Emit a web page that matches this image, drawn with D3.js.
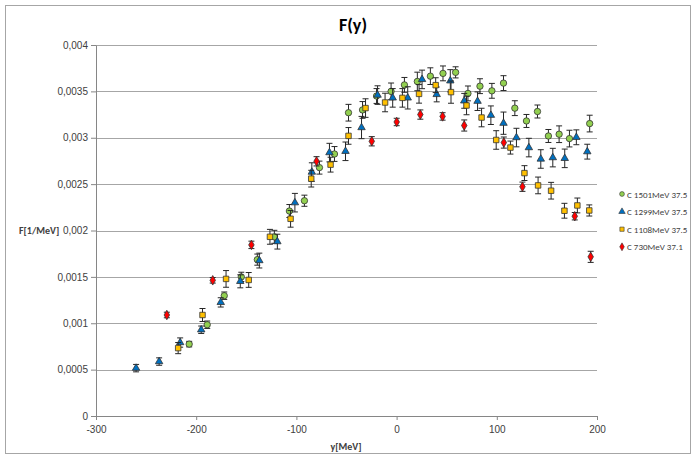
<!DOCTYPE html>
<html>
<head>
<meta charset="utf-8">
<script src="https://cdn.jsdelivr.net/npm/d3@7"></script>
<style>
  body { margin: 0; background: #fff; }
  svg { font-family: Calibri, Carlito, Lato, "Open Sans", sans-serif; }
</style>
</head>
<body>
<svg id="chart"></svg>
<script>
// ---- data ----
const seriesNames = ["C 1501MeV 37.5", "C 1299MeV 37.5", "C 1108MeV 37.5", "C 730MeV 37.1"];

const g1501X = [-207, -189, -172, -155, -139, -122, -107, -92, -77, -62, -48, -34, -20, -5.5, 7.8, 20.7, 33.7, 46.3, 58.9, 71.2, 83.2, 95.1, 106.7, 118, 129.6, 140.6, 151.5, 162.2, 172.5, 192.7];
const g1501Y = [0.000775, 0.000984, 0.001297, 0.0015, 0.001686, 0.001932, 0.00221, 0.002321, 0.002678, 0.002825, 0.00327, 0.0033, 0.00345, 0.0035, 0.00357, 0.003607, 0.003664, 0.003694, 0.003705, 0.003478, 0.003556, 0.003506, 0.003589, 0.003319, 0.003181, 0.003283, 0.003019, 0.003038, 0.002991, 0.003153];
const g1501E = [0.00003, 0.00004, 0.00004, 0.00005, 0.00006, 0.00007, 0.00007, 0.00006, 0.00007, 0.00008, 0.00009, 0.00009, 0.00008, 0.00009, 0.00008, 0.0001, 0.00009, 0.00008, 0.00006, 0.00008, 0.00008, 0.00008, 0.00008, 0.00008, 0.00007, 0.00007, 0.00007, 0.00009, 0.00009, 0.00009];

const b1299X = [-260, -237, -216, -195, -175.5, -156, -137, -119, -101.5, -84.6, -67, -51, -35, -19, -3.9, 11.1, 25.4, 40, 53.6, 67.5, 80.8, 94.1, 106.7, 119.6, 132, 143.9, 155.9, 167.8, 179.4, 190.3];
const b1299Y = [0.000516, 0.000587, 0.000792, 0.00093, 0.001225, 0.001452, 0.001676, 0.00188, 0.0023, 0.00263, 0.00284, 0.002854, 0.00311, 0.00346, 0.00343, 0.00343, 0.003629, 0.003467, 0.003614, 0.003398, 0.003394, 0.003243, 0.003157, 0.003002, 0.002894, 0.002771, 0.002786, 0.002778, 0.003005, 0.00285];
const b1299E = [0.00004, 0.00004, 0.00005, 0.00004, 0.00005, 0.00007, 0.00008, 0.00008, 0.0001, 0.0001, 0.0001, 0.0001, 0.00012, 0.0001, 0.0001, 0.00012, 0.0001, 0.00008, 0.00012, 0.00008, 0.0001, 0.0001, 0.00012, 0.0001, 0.0001, 0.0001, 0.0001, 0.0001, 0.00008, 0.00008];

const o1108X = [-218, -193.7, -170.2, -147.6, -126.4, -105.8, -85.2, -65.9, -48, -31, -11.5, 5.8, 22.4, 39, 54.3, 69.8, 84.8, 99.4, 113.6, 127.6, 141.2, 154.2, 167.5, 180.4, 192.3];
const o1108Y = [0.000732, 0.001089, 0.001478, 0.001467, 0.001932, 0.002126, 0.002559, 0.00271, 0.00302, 0.00332, 0.00338, 0.00343, 0.003473, 0.003567, 0.003492, 0.003348, 0.003218, 0.002976, 0.002894, 0.002619, 0.002486, 0.002429, 0.002213, 0.00227, 0.002216];
const o1108E = [0.00006, 0.00007, 0.00009, 0.00008, 0.00008, 0.00009, 0.00009, 0.00008, 0.00009, 0.0001, 0.0001, 0.0001, 0.0001, 0.00008, 0.00012, 0.0001, 0.0001, 0.0001, 0.00007, 0.00008, 0.00009, 0.00009, 0.00008, 0.00008, 0.00006];

const r730X = [-229.3, -183.5, -144.9, -79.9, -24.8, 0.1, 23.7, 45.9, 67.5, 107, 125.6, 177.8, 193.7];
const r730Y = [0.001089, 0.001463, 0.001845, 0.002746, 0.002962, 0.00317, 0.00325, 0.00323, 0.003132, 0.002948, 0.002472, 0.002154, 0.001716];
const r730E = [0.00003, 0.00003, 0.00004, 0.00005, 0.00005, 0.00004, 0.00005, 0.00004, 0.00006, 0.00006, 0.00005, 0.00004, 0.00006];

const xTicks = [-300, -200, -100, 0, 100, 200];
const yTicks = [0, 0.0005, 0.001, 0.0015, 0.002, 0.0025, 0.003, 0.0035, 0.004];

// ---- layout ----
const W = 696, H = 457;
const margin = {top: 45, right: 99, bottom: 41, left: 96};
const width = W - margin.left - margin.right;
const height = H - margin.top - margin.bottom;

const svg = d3.select("#chart").attr("width", W).attr("height", H);

// outer frame
svg.append("rect")
   .attr("x", 5.5).attr("y", 5.5)
   .attr("width", W - 11).attr("height", H - 9)
   .attr("fill", "#fff")
   .attr("stroke", "#a6a6a6");

svg.append("text")
   .attr("x", 353).attr("y", 31)
   .attr("text-anchor", "middle")
   .style("font-size", "18px")
   .style("font-weight", "bold")
   .text("F(y)");

const chart = svg.append("g")
   .attr("transform", `translate(${margin.left},${margin.top})`);

const x = d3.scaleLinear().domain([-300, 200]).range([0, width]);
const y = d3.scaleLinear().domain([0, 0.004]).range([height, 0]);

const comma = d3.formatLocale({decimal: ",", thousands: ".", grouping: [3], currency: ["", ""]});
const fmt = comma.format("~g");

// gridlines
chart.append("g")
   .selectAll("line")
   .data(yTicks.slice(1))
   .join("line")
     .attr("x1", 0).attr("x2", width)
     .attr("y1", d => Math.round(y(d)) + 0.5)
     .attr("y2", d => Math.round(y(d)) + 0.5)
     .attr("stroke", "#a6a6a6");

const yAxisG = chart.append("g")
   .call(d3.axisLeft(y).tickValues(yTicks).tickFormat(fmt).tickSize(5).tickSizeOuter(0).tickPadding(3));
yAxisG.select(".domain").attr("stroke", "#868686");
yAxisG.selectAll(".tick line").attr("stroke", "#868686");
yAxisG.selectAll("text").style("font-size", "10px").attr("fill", "#404040");

const xAxisG = chart.append("g")
   .attr("transform", `translate(0,${height})`)
   .call(d3.axisBottom(x).tickValues(xTicks).tickFormat(d => String(d)).tickSize(4).tickSizeOuter(0).tickPadding(6));
xAxisG.select(".domain").attr("stroke", "#868686");
xAxisG.selectAll(".tick line").attr("stroke", "#868686");
xAxisG.selectAll("text").style("font-size", "10px").attr("fill", "#404040");

svg.append("text")
   .attr("x", 346).attr("y", 450)
   .attr("text-anchor", "middle")
   .style("font-size", "10px").style("font-weight", "bold")
   .attr("fill", "#404040")
   .text("y[MeV]");

svg.append("text")
   .attr("x", 19).attr("y", 234)
   .style("font-size", "10px").style("font-weight", "bold")
   .attr("fill", "#404040")
   .text("F[1/MeV]");

// ---- series ----
const series = [
  {name: seriesNames[0], xs: g1501X, ys: g1501Y, es: g1501E, sym: d3.symbolCircle, size: 32, fill: "#92d050"},
  {name: seriesNames[1], xs: b1299X, ys: b1299Y, es: b1299E, sym: d3.symbolTriangle, size: 24, fill: "#0070c0"},
  {name: seriesNames[2], xs: o1108X, ys: o1108Y, es: o1108E, sym: d3.symbolSquare, size: 30, fill: "#ffc000"},
  {name: seriesNames[3], xs: r730X, ys: r730Y, es: r730E, sym: d3.symbolDiamond, size: 26, fill: "#ff0000"},
];

series.forEach(s => {
  const pts = s.xs.map((v, i) => ({x: v, y: s.ys[i], e: s.es[i]}));
  const g = chart.append("g");

  const eb = g.selectAll("g.eb").data(pts).join("g").attr("class", "eb")
     .attr("stroke", "#262626").attr("stroke-width", 1);
  eb.append("line")
     .attr("x1", d => x(d.x)).attr("x2", d => x(d.x))
     .attr("y1", d => y(d.y - d.e)).attr("y2", d => y(d.y + d.e));
  eb.append("line")
     .attr("x1", d => x(d.x) - 3).attr("x2", d => x(d.x) + 3)
     .attr("y1", d => y(d.y + d.e)).attr("y2", d => y(d.y + d.e));
  eb.append("line")
     .attr("x1", d => x(d.x) - 3).attr("x2", d => x(d.x) + 3)
     .attr("y1", d => y(d.y - d.e)).attr("y2", d => y(d.y - d.e));

  g.selectAll("path.pt").data(pts).join("path").attr("class", "pt")
     .attr("transform", d => `translate(${x(d.x)},${y(d.y)})`)
     .attr("d", d3.symbol().type(s.sym).size(s.size))
     .attr("fill", s.fill)
     .attr("stroke", "#333")
     .attr("stroke-width", 0.8);
});

// legend
const legend = svg.append("g").attr("transform", "translate(622,194)");
const rows = legend.selectAll("g").data(series).join("g")
   .attr("transform", (d, i) => `translate(0,${i * 17.6})`);
rows.append("path")
   .attr("d", d => d3.symbol().type(d.sym).size(18)())
   .attr("fill", d => d.fill)
   .attr("stroke", "#333")
   .attr("stroke-width", 0.6);
rows.append("text")
   .attr("x", 5).attr("y", 3.5)
   .style("font-size", "9px")
   .attr("fill", "#404040")
   .text(d => d.name);
</script>
</body>
</html>
